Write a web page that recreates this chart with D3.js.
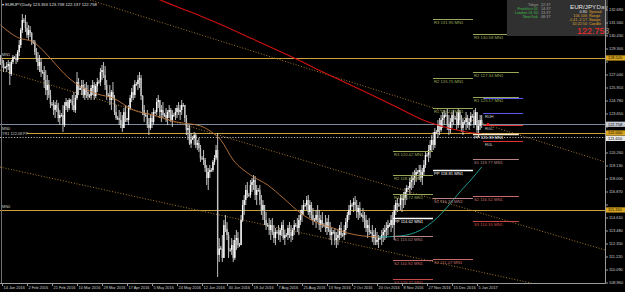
<!DOCTYPE html>
<html><head><meta charset="utf-8">
<script src="https://cdn.jsdelivr.net/npm/d3@7"></script>
<style>body{margin:0;background:#000;overflow:hidden}svg{display:block}text{font-family:"Liberation Sans",Arial,sans-serif}</style>
</head><body><svg id="c" width="625" height="292"></svg>
<script>
// ---------------- DATA ----------------
const symbol = "EURJPY,Daily";
const headerValues = ["123.353", "123.738", "122.137", "122.758"];
const dateLabels = ["14 Jan 2016","2 Feb 2016","21 Feb 2016","10 Mar 2016","29 Mar 2016","17 Apr 2016","5 May 2016","24 May 2016","12 Jun 2016","30 Jun 2016","19 Jul 2016","7 Aug 2016","25 Aug 2016","13 Sep 2016","2 Oct 2016","20 Oct 2016","8 Nov 2016","27 Nov 2016","15 Dec 2016","5 Jan 2017"];
const priceLabels = ["132.690","131.560","130.430","129.300","128.170","127.040","125.910","124.780","123.650","122.520","121.390","120.260","119.130","118.000","116.870","115.740","114.610","113.480","112.350","111.220","110.090","108.960"];
const firstOpen = 128.40;
const highs = [
128.78,128.52,128.34,127.82,128.17,128.34,128.17,128.34,128.78,128.69,
128.86,129.21,130.08,131.13,132.34,131.99,132.26,131.65,131.39,131.30,
130.78,130.08,130.08,129.39,129.04,128.78,128.52,127.47,127.82,127.47,
127.04,126.61,125.74,124.69,124.87,124.69,124.87,124.61,124.00,123.74,
124.43,124.69,125.04,124.87,125.04,124.95,125.30,125.56,125.30,127.30,
126.78,126.09,126.61,126.61,126.26,126.43,126.17,125.39,126.17,126.61,
126.43,126.26,126.78,126.61,127.65,127.91,128.17,127.82,126.61,125.48,
126.17,125.74,126.43,125.30,124.43,123.48,124.00,123.82,123.56,124.17,
124.43,123.30,124.43,125.30,125.91,126.17,126.61,126.43,127.04,127.30,
127.04,125.30,124.43,123.74,124.00,123.30,123.56,123.82,124.17,124.00,
125.04,125.30,124.87,124.43,124.69,123.74,124.17,124.00,124.43,124.17,
124.00,123.74,124.17,124.43,124.69,124.43,124.87,124.61,124.43,123.56,
122.69,122.69,122.00,121.74,122.09,122.00,121.39,121.56,120.96,120.00,
120.52,119.83,119.22,118.96,119.22,118.96,119.65,120.09,120.96,122.00,
112.87,112.18,113.13,114.44,114.87,114.26,113.39,112.00,112.87,112.70,
113.13,113.57,113.39,112.44,114.87,116.17,116.61,117.48,117.74,116.78,
117.91,118.09,118.35,118.26,117.48,117.22,117.48,116.61,116.17,115.74,
115.13,114.18,114.61,114.44,114.61,114.00,113.74,113.57,114.00,113.74,
114.26,114.44,113.57,113.31,114.00,114.26,114.00,113.74,114.44,114.18,
114.61,114.87,115.31,115.74,116.17,115.91,116.52,116.61,116.17,116.00,
115.48,114.61,115.31,115.74,115.31,114.87,115.13,114.18,114.87,114.61,
114.87,114.26,113.74,113.57,113.74,113.39,113.57,114.00,114.26,113.31,
114.00,114.61,115.13,115.74,116.17,115.91,116.35,116.52,116.17,115.74,
116.00,115.04,115.48,115.13,114.87,114.44,114.61,113.57,114.00,113.57,
113.74,113.39,113.13,113.05,113.57,113.74,114.00,114.26,114.44,114.18,
114.87,115.13,115.74,116.17,116.35,115.91,116.61,116.61,116.87,117.22,
117.48,117.39,118.09,118.35,118.61,118.78,118.96,118.78,119.22,119.22,
118.96,119.65,120.35,120.26,120.96,121.39,121.82,122.09,122.43,122.26,
123.13,123.30,123.56,123.82,124.00,123.74,124.17,123.56,123.30,123.82,
124.00,123.48,123.82,124.17,124.00,123.56,123.30,123.13,123.82,123.56,
123.30,123.82,123.65,124.00,124.17,123.82,123.13,123.56,123.56];
const lows = [
127.91,127.65,127.30,127.56,127.30,127.47,126.17,126.96,127.99,128.43,
127.99,128.17,128.69,129.39,130.69,131.56,130.78,130.26,130.08,130.34,
129.65,129.73,128.78,128.17,127.47,127.30,126.87,127.13,125.91,125.30,
124.87,125.04,124.17,124.35,123.56,123.30,123.82,122.95,122.69,123.39,
122.09,122.52,124.00,123.82,124.00,124.61,124.00,123.82,123.74,124.87,
125.30,125.74,125.30,125.04,124.87,125.04,124.87,125.04,124.87,125.30,
124.87,125.04,125.56,126.26,126.09,126.61,126.78,125.74,124.87,125.13,
124.43,124.00,124.87,123.56,123.13,123.13,122.69,122.43,122.09,122.43,
122.95,122.95,122.69,124.00,124.69,124.87,125.04,126.09,125.74,125.91,
124.87,123.56,122.95,123.39,122.43,121.82,122.26,122.43,122.69,123.65,
123.56,124.17,123.30,122.95,123.30,123.39,122.95,122.69,123.30,122.95,
122.52,123.39,123.13,123.30,123.56,123.13,123.56,124.26,122.95,121.82,
121.39,120.96,120.69,121.39,120.96,120.69,120.52,120.35,119.48,119.65,
119.22,118.61,117.48,117.04,118.09,118.61,118.61,119.22,119.65,109.48,
110.79,111.83,110.79,111.40,113.39,112.70,111.14,111.66,111.40,110.79,
110.96,111.83,112.00,112.09,112.26,114.26,114.87,115.74,116.35,116.44,
116.35,116.87,117.04,116.17,115.74,116.87,115.74,114.87,114.44,114.00,
113.57,113.83,113.13,112.70,113.13,112.44,112.26,113.22,112.70,112.52,
113.05,112.70,112.26,112.96,112.70,112.87,112.52,112.70,113.13,113.83,
113.39,113.13,114.00,114.26,114.87,115.57,115.31,114.87,114.61,114.44,
114.00,114.26,113.74,114.26,113.57,113.39,113.74,113.83,113.39,113.13,
113.39,112.70,112.26,113.22,112.26,112.00,112.26,112.70,112.87,112.96,
112.70,113.13,113.74,114.44,114.87,115.57,115.13,115.31,114.61,114.44,
114.61,114.70,114.26,113.74,113.39,112.87,113.13,113.22,112.52,112.26,
112.26,112.26,112.00,112.70,112.26,112.52,112.70,112.87,113.13,113.83,
113.39,113.74,112.70,114.87,115.13,115.57,115.31,115.13,115.48,115.74,
116.17,117.04,116.61,117.04,117.22,117.48,117.74,118.43,117.91,117.74,
117.48,118.35,118.96,119.91,119.48,119.83,120.35,120.52,120.69,121.91,
121.56,121.82,122.09,122.43,122.69,123.39,122.26,121.82,122.00,122.43,
122.69,123.13,122.26,122.43,122.69,122.09,121.82,122.78,122.26,122.43,
122.26,122.61,123.30,122.43,122.69,121.82,121.65,122.26,122.43];
const closes = [
128.34,128.08,127.65,127.73,127.82,127.99,127.13,128.17,128.60,128.52,
128.34,129.04,129.65,130.95,131.82,131.73,131.13,130.52,130.95,130.69,
129.91,129.91,129.04,128.52,127.82,128.17,127.30,127.30,126.61,125.74,
126.17,125.30,124.52,124.52,124.00,124.43,124.17,123.30,123.56,123.56,
122.69,124.35,124.69,124.17,124.87,124.78,124.43,124.00,125.04,126.43,
125.74,125.91,126.17,125.30,125.91,125.56,125.22,125.22,125.91,126.17,
125.22,126.09,126.43,126.43,127.30,127.47,127.04,126.17,125.30,125.30,
124.87,125.56,125.04,123.82,123.30,123.30,123.13,122.78,122.43,123.82,
123.30,123.13,124.17,125.04,125.56,125.30,126.26,126.26,126.61,126.78,
125.22,124.00,123.56,123.56,122.69,122.43,123.30,122.95,123.82,123.82,
124.69,124.87,123.82,124.00,123.56,123.56,123.30,123.82,124.00,123.13,
123.56,123.56,123.82,124.17,123.82,124.00,124.43,124.43,123.30,122.26,
122.43,121.08,121.43,121.56,121.82,120.96,121.13,120.69,119.83,119.83,
119.65,118.96,118.09,118.61,118.78,118.78,119.48,119.83,120.52,111.40,
111.96,111.96,111.14,114.00,113.65,113.13,111.83,111.83,112.26,111.14,
112.70,112.87,112.26,112.26,114.44,115.74,116.17,117.04,116.61,116.61,
117.48,117.74,117.91,116.61,117.04,117.04,116.17,115.31,115.74,114.44,
114.00,114.00,113.57,114.00,113.39,112.87,113.39,113.39,113.13,113.57,
114.00,112.87,113.13,113.13,113.74,113.39,113.05,113.57,114.00,114.00,
113.74,114.44,114.87,115.31,115.74,115.74,116.17,115.13,115.74,114.87,
114.44,114.44,114.87,114.61,114.00,114.44,114.00,114.00,113.74,114.26,
113.57,113.13,113.39,113.39,112.70,112.87,113.13,113.74,113.13,113.13,
113.57,114.26,114.87,115.31,115.74,115.74,116.00,115.74,115.13,115.48,
114.87,114.87,114.61,114.44,113.74,114.00,113.39,113.39,112.87,113.13,
112.52,112.70,112.87,112.87,113.13,113.39,113.57,113.74,114.00,114.00,
114.44,114.00,115.31,115.91,115.74,115.74,116.35,116.17,116.35,116.87,
117.22,117.22,117.74,117.91,118.09,118.35,118.61,118.61,118.78,118.09,
118.61,119.22,120.09,120.09,120.52,120.96,121.39,120.96,122.09,122.09,
122.69,122.26,123.13,123.30,123.56,123.56,122.69,122.26,122.95,123.56,
123.30,123.30,122.69,123.82,123.13,122.43,122.95,122.95,123.30,122.69,
122.95,123.48,123.48,122.69,123.82,122.26,122.61,123.13,122.758];
// moving averages: [bar, price]
const maSlow = [[90,134.22],[103,133.52],[115,132.86],[128,132.17],[141,131.43],[160,130.26],[179,129.08],[192,128.26],[205,127.39],[224,126.17],[243,124.95],[256,124.09],[269,123.22],[282,122.61],[295,122.17],[308,121.91]];
const maMidDown = [[0,131.39],[11,130.30],[21,129.91],[27,129.21],[34,128.17],[43,126.87],[53,125.91],[62,125.39],[72,125.04],[85,124.00],[98,123.56],[113,122.95],[128,122.61],[136,122.00],[141,121.39],[149,119.65],[160,118.35],[171,117.48],[181,116.35],[192,115.04],[203,114.18],[213,113.74],[222,113.31],[232,113.05],[242,112.96]];
const maMidUp = [[242,112.96],[256,113.05],[269,113.57],[278,114.44],[286,115.57],[294,116.87],[301,117.91],[308,119.05]];
// trend lines (dotted), [[bar,price],[bar,price]]
const trendLines = [[[57.3,133.56],[386.9,119.48]], [[-0.3,127.47],[386.9,111.83]], [[-0.3,119.04],[386.9,107.55]]];
// horizontal levels
const goldLevels = [128.52, 122.00, 115.31];
const bidPrice = 122.758;
const dottedLevel = 121.65;
// monthly pivots (Dec S3 lies below the visible price range)
const pivotNames = ["R3","R2","R1","PP","S1","S2","S3"];
const pivotsNov = [120.42,118.32,116.72,114.62,113.02,110.92,109.32];
const pivotsDec = [131.95,126.75,124.19,118.81,116.36,111.07,null];
const pivotsJan = [130.58,127.34,125.17,121.93,119.77,116.52,114.35];
const pivotSpans = [[251.2,276.8],[276.8,302.4],[302.4,331.8]];
// previous period levels
const extraNames = ["","R0H","R0C","R0L"];
const extraValues = [125.04,123.74,122.69,121.30];
const extraSpan = [308.9,334.5];
// info panel
const sessions = [["Tokyo","22:37"],["Frankfurt 01","14:37"],["London 01:30","13:37"],["NewYork","08:37"]];
const infoRows = [["0.80","Spread"],["106 106","Range"],["-1.41 -2.17","Swaps"],["10:22:50","Candle"]];

// ---------------- DRAW ----------------
const svg = d3.select("#c");
const PR = 605, PB = 283;
const x = d3.scaleLinear().domain([-0.28, 386.9]).range([0, PR]);
const y = d3.scaleLinear().domain([108.96, 132.69]).range([PB, 10]);

svg.append("rect").attr("width",625).attr("height",292).attr("fill","#000");
svg.append("defs").append("clipPath").attr("id","clip").append("rect").attr("x",0).attr("y",0).attr("width",PR).attr("height",PB);
const g = svg.append("g").attr("clip-path","url(#clip)");

// horizontal levels
g.selectAll(".gold").data(goldLevels).join("line")
  .attr("x1",(d,i)=> i===1 ? 27 : 0).attr("x2",PR).attr("y1",d=>Math.round(y(d))+0.5).attr("y2",d=>Math.round(y(d))+0.5)
  .attr("stroke","#c9a23a").attr("stroke-width",1);
g.append("line").attr("x1",0).attr("x2",PR).attr("y1",Math.round(y(bidPrice))+0.5).attr("y2",Math.round(y(bidPrice))+0.5)
  .attr("stroke","#7a8aa0").attr("stroke-width",1);
g.append("line").attr("x1",0).attr("x2",PR).attr("y1",Math.round(y(dottedLevel))+0.5).attr("y2",Math.round(y(dottedLevel))+0.5)
  .attr("stroke","#e8e8e8").attr("stroke-width",0.8).attr("stroke-dasharray","1.2,1.6");

// trend lines
g.selectAll(".tl").data(trendLines).join("line")
  .attr("x1",d=>x(d[0][0])).attr("y1",d=>y(d[0][1])).attr("x2",d=>x(d[1][0])).attr("y2",d=>y(d[1][1]))
  .attr("stroke","#b8862a").attr("stroke-width",0.9).attr("stroke-dasharray","1,1.8");

// candles
const bars = closes.map((c,i)=>{
  const o = i===0 ? firstOpen : closes[i-1];
  return {i, o, c, h: Math.max(highs[i],o,c), l: Math.min(lows[i],o,c)};
});
const cg = g.append("g");
cg.selectAll("line").data(bars).join("line")
  .attr("x1",d=>x(d.i)).attr("x2",d=>x(d.i)).attr("y1",d=>y(d.h)).attr("y2",d=>y(d.l))
  .attr("stroke","#e4e4e4").attr("stroke-width",0.85);
cg.selectAll("rect").data(bars).join("rect")
  .attr("x",d=>x(d.i)-0.7).attr("width",1.4)
  .attr("y",d=>y(Math.max(d.o,d.c))).attr("height",d=>Math.max(0.6,Math.abs(y(d.o)-y(d.c))))
  .attr("fill",d=>d.c>=d.o ? "#ffffff" : "#c4c4c4");

// MAs
const ln = d3.line().x(d=>x(d[0])).y(d=>y(d[1])).curve(d3.curveMonotoneX);
g.append("path").attr("d",ln(maSlow)).attr("fill","none").attr("stroke","#d01010").attr("stroke-width",1.1);
g.append("path").attr("d",ln(maMidDown)).attr("fill","none").attr("stroke","#c07840").attr("stroke-width",0.9);
g.append("path").attr("d",ln(maMidUp)).attr("fill","none").attr("stroke","#20a8a0").attr("stroke-width",0.9);

// pivots
const pivColor = n => n[0]==="R" ? "#9aa85a" : n==="PP" ? "#ffffff" : n==="S1" ? "#b98585" : n==="S2" ? "#c86a6a" : "#c84848";
[pivotsNov,pivotsDec,pivotsJan].forEach((set,k)=>{
  const [b0,b1] = pivotSpans[k];
  set.forEach((v,j)=>{
    if (v === null) return;
    const n = pivotNames[j];
    const yy = Math.round(y(v))+0.5;
    g.append("line").attr("x1",x(b0)).attr("x2",x(b1)).attr("y1",yy).attr("y2",yy)
      .attr("stroke", k===2 && n==="PP" ? "#f3e6c6" : pivColor(n)).attr("stroke-width", n==="PP" ? 1.4 : 1);
    svg.append("text").attr("x",x(b0)+1).attr("y",yy+4.3).attr("font-size",4.2).attr("fill",pivColor(n))
      .text(`${n} ${v.toFixed(2)} MN1`);
  });
});
// previous-period levels
extraValues.forEach((v,j)=>{
  const yy = Math.round(y(v))+0.5;
  g.append("line").attr("x1",x(extraSpan[0])).attr("x2",x(extraSpan[1])).attr("y1",yy).attr("y2",yy)
    .attr("stroke", j<2 ? "#5a5af0" : "#e03030").attr("stroke-width",1);
  if (extraNames[j]) g.append("text").attr("x",x(extraSpan[0])+2).attr("y",yy+4.5).attr("font-size",4.2)
    .attr("fill","#c8c8c8").text(extraNames[j]);
});
g.append("circle").attr("cx",x(312)).attr("cy",y(bidPrice)).attr("r",1.3).attr("fill","#ff2020");

// left labels
const leftLab = [["MN1",goldLevels[0],-2],["MN0",goldLevels[1],-3],["YR1 122.08 PP",goldLevels[1],2.5],["MN0",goldLevels[2],-2]];
leftLab.forEach(([t,v,dy])=> svg.append("text").attr("x",2).attr("y",y(v)+dy).attr("font-size",3.8).attr("fill","#c8c8c8").text(t));

// header
svg.append("text").attr("x",2).attr("y",6).attr("font-size",4.2).attr("fill","#e0e0e0")
  .text("\u25BE " + symbol + "  " + headerValues.join(" "));

// info panel
svg.append("rect").attr("x",507).attr("y",0).attr("width",101).attr("height",36).attr("fill","#303030");
sessions.forEach(([a,b],i)=>{
  svg.append("text").attr("x",538).attr("y",5.5+i*4.3).attr("font-size",3.8).attr("text-anchor","end").attr("fill", i===0?"#a0a0a0":"#3cb84a").text(a);
  svg.append("text").attr("x",541).attr("y",5.5+i*4.3).attr("font-size",3.8).attr("fill","#a0a0a0").text(b);
});
svg.append("text").attr("x",570).attr("y",8.5).attr("font-size",6.2).attr("fill","#e8e8e8").text("EUR/JPY");
svg.append("text").attr("x",596.5).attr("y",8.5).attr("font-size",6.2).attr("fill","#d0d0d0").text("Day");
infoRows.forEach(([a,b],i)=>{
  svg.append("text").attr("x",587).attr("y",12.8+i*4.2).attr("font-size",3.8).attr("text-anchor","end").attr("fill",i===0?"#e0e0e0":"#d8a030").text(a);
  svg.append("text").attr("x",589).attr("y",12.8+i*4.2).attr("font-size",3.8).attr("fill","#e0a020").text(b);
});
const bigTxt = svg.append("text").attr("x",577).attr("y",34).attr("font-size",9).attr("fill","#ff2a2a");
bigTxt.append("tspan").text(bidPrice.toFixed(3).slice(0,-1));
bigTxt.append("tspan").attr("fill","#909090").text(bidPrice.toFixed(3).slice(-1));

// axes
svg.append("line").attr("x1",0).attr("x2",PR+0.5).attr("y1",PB+0.5).attr("y2",PB+0.5).attr("stroke","#9a9a9a");
svg.append("line").attr("x1",PR+0.5).attr("x2",PR+0.5).attr("y1",0).attr("y2",PB+0.5).attr("stroke","#9a9a9a");
svg.append("line").attr("x1",1.5).attr("x2",1.5).attr("y1",0).attr("y2",PB).attr("stroke","#707070");
dateLabels.forEach((t,k)=>{
  const xx = Math.round(x(1+16*k))+0.5;
  svg.append("line").attr("x1",xx).attr("x2",xx).attr("y1",PB).attr("y2",PB+3).attr("stroke","#9a9a9a");
  svg.append("text").attr("x",xx+1).attr("y",PB+5.8).attr("font-size",3.9).attr("fill","#d0d0d0").text(t);
});
const tags = [[goldLevels[0],"#d9a520"],[bidPrice,"#c8ccd4"],[goldLevels[1],"#d9a520"],[dottedLevel,"#e8e8e8"],[goldLevels[2],"#d9a520"]];
priceLabels.forEach(t=>{
  const yy = y(+t);
  svg.append("line").attr("x1",PR).attr("x2",PR+3).attr("y1",yy).attr("y2",yy).attr("stroke","#9a9a9a");
  if (tags.some(([v])=>Math.abs(y(v)-yy)<5.5)) return;
  svg.append("text").attr("x",609).attr("y",yy+1.4).attr("font-size",3.9).attr("fill","#d0d0d0").text(t);
});
// tags: keep them from overlapping each other
let lastY = -99;
tags.map(([v,col])=>({v,col,yy:y(v)})).sort((a,b)=>a.yy-b.yy).forEach(t=>{
  let yy = Math.max(t.yy, lastY+5.4); lastY = yy;
  svg.append("rect").attr("x",606).attr("y",yy-2.6).attr("width",19).attr("height",5.2).attr("fill",t.col);
  svg.append("text").attr("x",608).attr("y",yy+1.4).attr("font-size",3.9).attr("fill","#000").text(t.v.toFixed(3));
});
</script></body></html>
